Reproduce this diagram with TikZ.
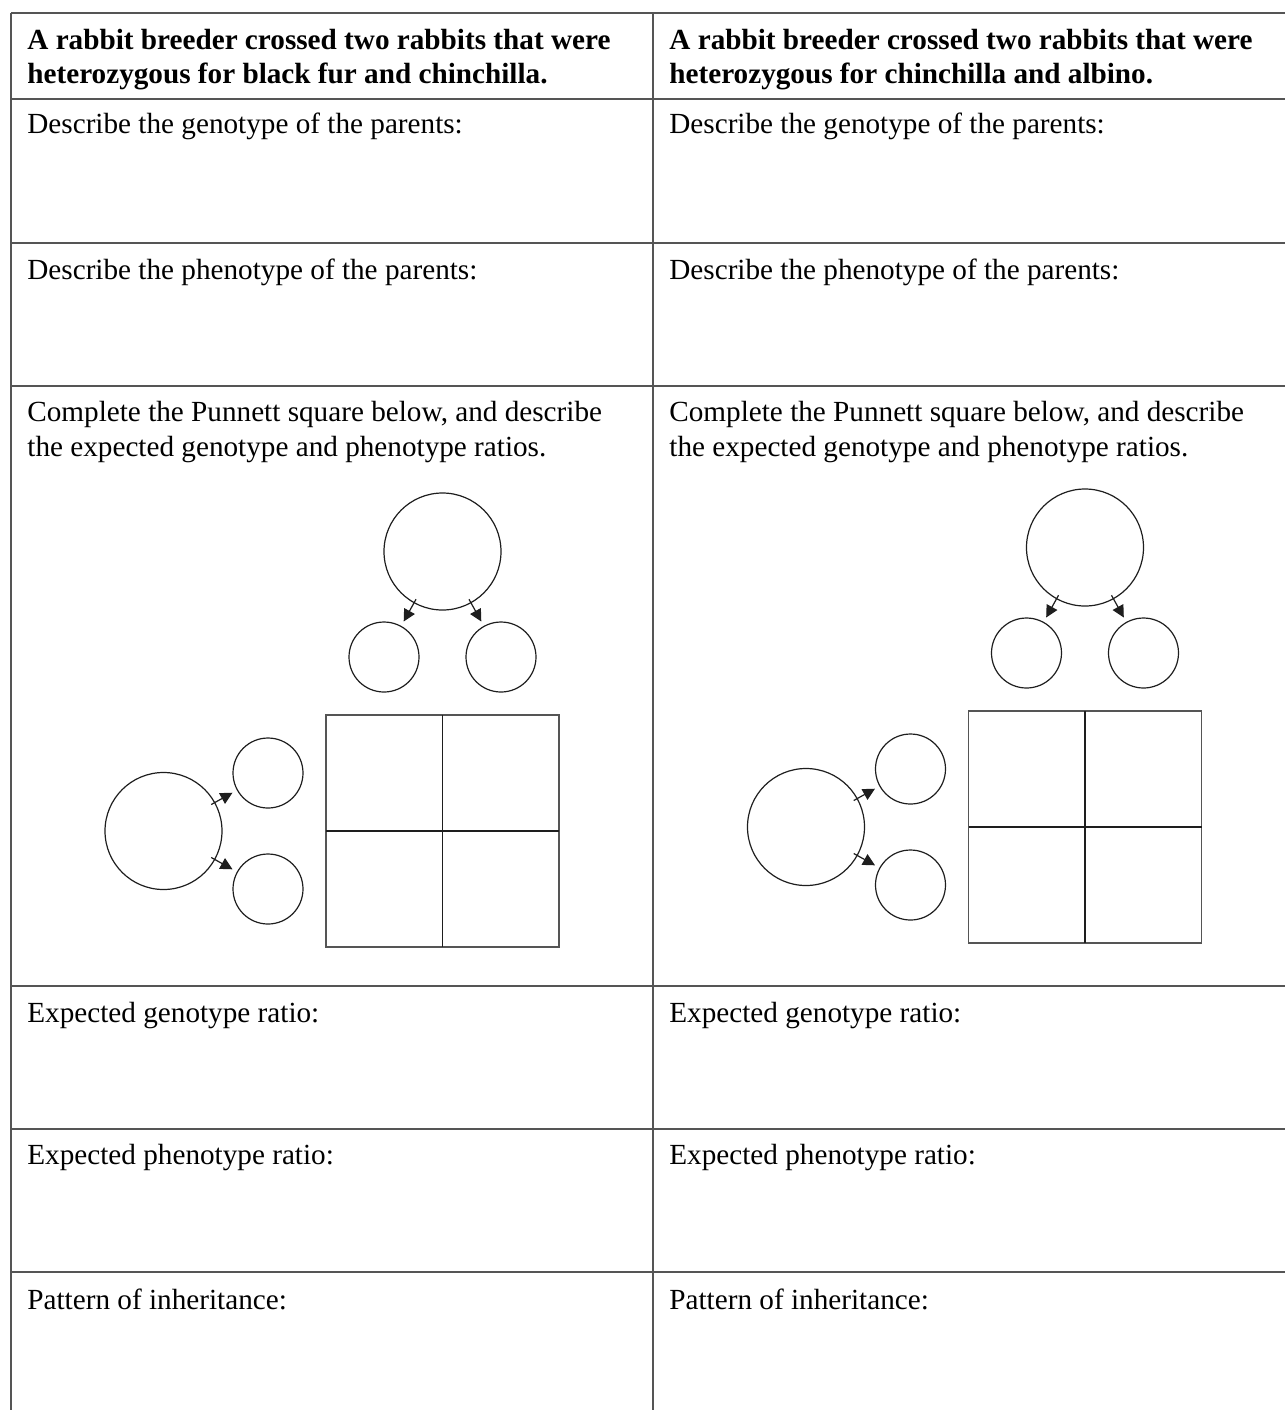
\documentclass[tikz,border=0pt]{standalone}
\usepackage{fontspec}
\setmainfont{Liberation Serif}
\definecolor{RuleGray}{RGB}{85,85,85}
\definecolor{InkBlack}{RGB}{30,30,30}
\usepackage{tikz}
\usetikzlibrary{arrows.meta, positioning, calc}

\begin{document}
\begin{tikzpicture}[x=0.5pt, y=-0.5pt,
	cell/.style={anchor=base west, inner sep=0pt, align=left,
		font=\fontsize{14.6}{17.5}\selectfont},
	head/.style={cell, font=\fontsize{14.6}{17}\selectfont\bfseries},
	parent/.style={circle, draw=InkBlack, line width=0.6pt, minimum size=58.5pt, inner sep=0pt},
	gamete/.style={circle, draw=InkBlack, line width=0.6pt, minimum size=35pt, inner sep=0pt},
	split/.style={-{Triangle[length=6pt, width=6pt]}, InkBlack, line width=0.6pt,
		shorten <=-2.25pt, shorten >=2.5pt}]
	\useasboundingbox (0,0) rectangle (1285,1410);

	% rejilla de la tabla
	\foreach \y in {13, 99, 243, 386, 986, 1129, 1272}{
		\draw[RuleGray, line width=1pt] (11,\y) -- (1285,\y);
	}
	\foreach \x in {11, 653}{
		\draw[RuleGray, line width=1pt] (\x,13) -- (\x,1410);
	}

	% encabezados (base = ultima linea)
	\node[head] (headL) at (27,83)
		{A rabbit breeder crossed two rabbits that were\\heterozygous for black fur and chinchilla.};
	\node[head] (headR) at (669,83)
		{A rabbit breeder crossed two rabbits that were\\heterozygous for chinchilla and albino.};

	% textos de las filas
	\foreach \c/\dx in {L/0, R/642}{
		\node[cell] (geno\c) at (27+\dx,133) {Describe the genotype of the parents:};
		\node[cell] (pheno\c) at (27+\dx,279) {Describe the phenotype of the parents:};
		\node[cell] (punn\c) at (27+\dx,456)
			{Complete the Punnett square below, and describe\\the expected genotype and phenotype ratios.};
		\node[cell] (gratio\c) at (27+\dx,1022) {Expected genotype ratio:};
		\node[cell] (pratio\c) at (27+\dx,1164) {Expected phenotype ratio:};
		\node[cell] (patt\c) at (27+\dx,1309) {Pattern of inheritance:};
	}

	% cuadro de Punnett con gametos
	\foreach \c/\dx/\dy in {L/0/0, R/642.5/-4}{
		\begin{scope}[shift={(\dx,\dy)}]
			\node[parent] (top\c) at (442.5,551.5) {};
			\node[gamete] (topa\c) at (384,657) {};
			\node[gamete] (topb\c) at (501,657) {};
			\node[parent] (side\c) at (163.5,831) {};
			\node[gamete] (sidea\c) at (268,773) {};
			\node[gamete] (sideb\c) at (268,889) {};
			\draw[split] (top\c) -- (topa\c);
			\draw[split] (top\c) -- (topb\c);
			\draw[split] (side\c) -- (sidea\c);
			\draw[split] (side\c) -- (sideb\c);
			\draw[RuleGray, line width=0.7pt] (326,715) rectangle (559,947);
			\draw[InkBlack, line width=0.6pt] (442.5,715) -- (442.5,947);
			\draw[InkBlack, line width=0.6pt] (326,831) -- (559,831);
		\end{scope}
	}
\end{tikzpicture}
\end{document}
